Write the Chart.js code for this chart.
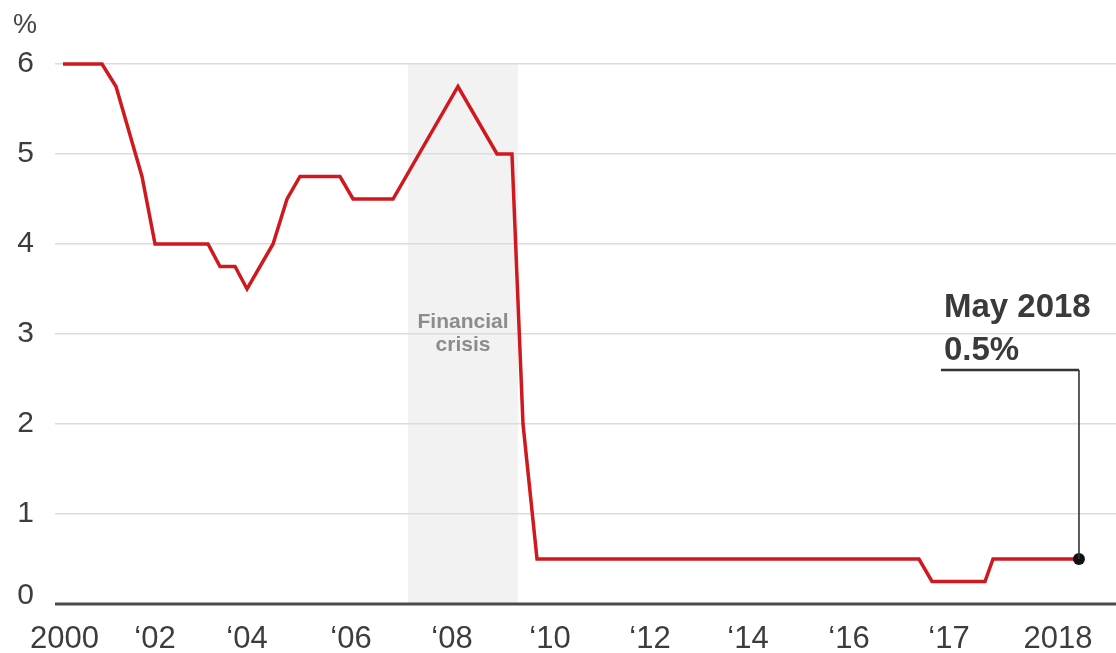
<!DOCTYPE html>
<html>
<head>
<meta charset="utf-8">
<script src="https://cdn.jsdelivr.net/npm/chart.js@4"></script>
<style>
  html, body { margin: 0; padding: 0; background: #fff; overflow: hidden; }
  #wrap { width: 1116px; height: 653px; }
  canvas { display: block; }
</style>
</head>
<body>
<div id="wrap"><canvas id="rate-chart"></canvas></div>
<script>
// UK bank rate, 2000 - May 2018
// x is a position along the axis (0-100), the source axis is not proportional to time
var tickLabels = ["2000", "\u201802", "\u201804", "\u201806", "\u201808", "\u201810", "\u201812", "\u201814", "\u201816", "\u201817", "2018"];
var tickPos = [0.90, 9.43, 18.10, 27.90, 37.42, 46.65, 56.08, 65.32, 74.84, 84.26, 94.53];

var rateX = [0.75, 4.43, 5.75, 8.20, 9.43, 14.42, 15.55, 16.97, 18.10, 20.55, 21.87, 23.09, 26.86, 28.09, 31.86, 37.98, 41.66, 43.07, 44.11, 45.43, 81.43, 82.66, 87.65, 88.41, 96.51];
var rateY = [6, 6, 5.75, 4.75, 4, 4, 3.75, 3.75, 3.5, 4, 4.5, 4.75, 4.75, 4.5, 4.5, 5.75, 5, 5, 2, 0.5, 0.5, 0.25, 0.25, 0.5, 0.5];

// shaded "Financial crisis" period
var crisisFrom = 33.27;
var crisisTo = 43.64;
var crisisText = ["Financial", "crisis"];
var crisisTextY = [3.13, 2.87];

// callout on the latest value
var calloutText = ["May 2018", "0.5%"];
var calloutX = 83.5;
var calloutY = 2.6;

var FONT = "'Liberation Sans', Arial, Helvetica, sans-serif";

var points = rateX.map(function (x, i) { return { x: x, y: rateY[i] }; });
var last = points.length - 1;

var extras = {
  id: "extras",
  beforeDraw: function (chart) {
    var ctx = chart.ctx, xs = chart.scales.x, ys = chart.scales.y;
    var x0 = xs.getPixelForValue(crisisFrom), x1 = xs.getPixelForValue(crisisTo);
    var top = ys.getPixelForValue(6), bot = ys.getPixelForValue(0);
    ctx.save();
    ctx.fillStyle = "#f2f2f2";
    ctx.fillRect(x0, top, x1 - x0, bot - top);
    ctx.restore();
  },
  beforeDatasetsDraw: function (chart) {
    var ctx = chart.ctx, xs = chart.scales.x, ys = chart.scales.y, a = chart.chartArea;
    ctx.save();
    // baseline
    ctx.strokeStyle = "#4a4a4a";
    ctx.lineWidth = 3;
    ctx.beginPath();
    ctx.moveTo(a.left, ys.getPixelForValue(0));
    ctx.lineTo(a.right, ys.getPixelForValue(0));
    ctx.stroke();
    // crisis label
    ctx.fillStyle = "#8c8c8c";
    ctx.font = "bold 21px " + FONT;
    ctx.textAlign = "center";
    ctx.textBaseline = "middle";
    var cx = (xs.getPixelForValue(crisisFrom) + xs.getPixelForValue(crisisTo)) / 2;
    crisisText.forEach(function (t, i) {
      ctx.fillText(t, cx, ys.getPixelForValue(crisisTextY[i]));
    });
    // % unit
    ctx.fillStyle = "#444";
    ctx.font = "27px " + FONT;
    ctx.fillText("%", 25, ys.getPixelForValue(6) - 38);
    ctx.restore();
  },
  afterDatasetsDraw: function (chart) {
    var ctx = chart.ctx, xs = chart.scales.x, ys = chart.scales.y;
    var px = xs.getPixelForValue(points[last].x), py = ys.getPixelForValue(points[last].y);
    var lx = xs.getPixelForValue(calloutX), ly = ys.getPixelForValue(calloutY);
    ctx.save();
    ctx.strokeStyle = "#333";
    ctx.lineWidth = 2.5;
    ctx.beginPath();
    ctx.moveTo(lx, ly);
    ctx.lineTo(px, ly);
    ctx.stroke();
    ctx.lineWidth = 1.6;
    ctx.beginPath();
    ctx.moveTo(px, ly);
    ctx.lineTo(px, py);
    ctx.stroke();
    ctx.fillStyle = "#3a3a3a";
    ctx.font = "bold 33px " + FONT;
    ctx.textAlign = "left";
    ctx.textBaseline = "alphabetic";
    ctx.fillText(calloutText[0], lx + 3, ly - 53);
    ctx.fillText(calloutText[1], lx + 3, ly - 10);
    ctx.restore();
  }
};

var chart = new Chart(document.getElementById("rate-chart").getContext("2d"), {
  type: "line",
  data: {
    datasets: [{
      label: "Bank rate",
      data: points,
      clip: false,
      borderColor: "#d0191f",
      borderWidth: 3.5,
      borderJoinStyle: "miter",
      tension: 0,
      pointRadius: function (c) { return c.dataIndex === last ? 6 : 0; },
      pointBackgroundColor: "#111",
      pointBorderWidth: 0
    }]
  },
  options: {
    responsive: true,
    maintainAspectRatio: false,
    animation: false,
    layout: { autoPadding: false, padding: { top: 64, right: 0, left: 0, bottom: 0 } },
    plugins: {
      legend: { display: false },
      tooltip: { enabled: false }
    },
    scales: {
      x: {
        type: "linear",
        min: 0,
        max: 100,
        grid: { display: false },
        border: { display: false },
        afterBuildTicks: function (s) {
          s.ticks = tickPos.map(function (v) { return { value: v }; });
        },
        afterFit: function (s) {
          s.height = 49;
          s.paddingLeft = 0;
          s.paddingRight = 0;
        },
        ticks: {
          autoSkip: false,
          maxRotation: 0,
          padding: 9,
          color: "#3d3d3d",
          font: { family: FONT, size: 31 },
          callback: function (v, i) { return tickLabels[i]; }
        }
      },
      y: {
        min: 0,
        max: 6,
        border: { display: false },
        grid: {
          drawTicks: false,
          lineWidth: 1.5,
          color: function (c) { return c.tick.value === 0 ? "rgba(0,0,0,0)" : "#dcdcdc"; }
        },
        afterFit: function (s) {
          s.width = 55;
          s.paddingTop = 0;
          s.paddingBottom = 0;
        },
        ticks: {
          stepSize: 1,
          padding: 21,
          color: "#3d3d3d",
          font: function (c) {
            return { family: FONT, size: 30, lineHeight: c.tick && c.tick.value === 0 ? 0.53 : 1.2 };
          },
          callback: function (v) { return v === 0 ? ["0", ""] : v; }
        }
      }
    }
  },
  plugins: [extras]
});
</script>
</body>
</html>
